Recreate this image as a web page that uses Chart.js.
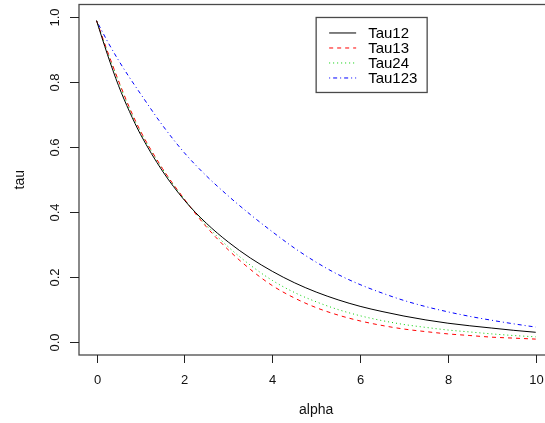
<!DOCTYPE html>
<html>
<head>
<meta charset="utf-8">
<script src="https://cdn.jsdelivr.net/npm/chart.js@4"></script>
<style>
  html, body { margin: 0; padding: 0; background: #fff; overflow: hidden; }
  #wrap { width: 545px; height: 423px; overflow: hidden; }
</style>
</head>
<body>
<div id="wrap"><canvas id="tau-chart" width="560" height="423"></canvas></div>
<script>
// values
const alpha = [0, 0.25, 0.5, 0.75, 1, 1.5, 2, 2.5, 3, 3.5, 4, 4.5, 5, 5.5, 6, 6.5, 7, 7.5, 8, 8.5, 9, 9.5, 10];
const tau12  = [0.99, 0.885, 0.79, 0.71, 0.64, 0.527, 0.437, 0.366, 0.308, 0.259, 0.218, 0.183, 0.154, 0.13, 0.11, 0.094, 0.08, 0.068, 0.058, 0.05, 0.043, 0.036, 0.03];
const tau13  = [0.99, 0.895, 0.805, 0.722, 0.65, 0.535, 0.44, 0.355, 0.284, 0.224, 0.174, 0.136, 0.106, 0.083, 0.065, 0.051, 0.04, 0.032, 0.025, 0.02, 0.015, 0.012, 0.009];
const tau24  = [0.99, 0.893, 0.802, 0.718, 0.647, 0.533, 0.44, 0.36, 0.293, 0.237, 0.19, 0.153, 0.124, 0.1, 0.081, 0.066, 0.054, 0.045, 0.037, 0.031, 0.025, 0.02, 0.016];
const tau123 = [0.99, 0.926, 0.868, 0.815, 0.765, 0.668, 0.583, 0.512, 0.45, 0.393, 0.34, 0.29, 0.246, 0.208, 0.177, 0.151, 0.128, 0.109, 0.093, 0.079, 0.067, 0.056, 0.046];

const seriesNames = ["Tau12", "Tau13", "Tau24", "Tau123"];
const xTicks = [0, 2, 4, 6, 8, 10];
const yTicks = [0, 0.2, 0.4, 0.6, 0.8, 1.0];
const yTickLabels = ["0.0", "0.2", "0.4", "0.6", "0.8", "1.0"];

function points(ys) {
  return alpha.map((a, i) => ({ x: a, y: ys[i] }));
}

// R style box, ticks, titles and legend
const rAxes = {
  id: "rAxes",
  afterDraw(chart) {
    const ctx = chart.ctx;
    const area = chart.chartArea;
    const xs = chart.scales.x, ys = chart.scales.y;
    ctx.save();
    ctx.strokeStyle = "#4a4a4a";
    ctx.lineWidth = 1.3;
    ctx.strokeRect(area.left, area.top, area.right - area.left, area.bottom - area.top);

    ctx.fillStyle = "#111";
    ctx.strokeStyle = "#222";
    ctx.lineWidth = 1;
    ctx.font = "13px 'Liberation Sans', Arial, sans-serif";
    ctx.textAlign = "center";
    ctx.textBaseline = "middle";
    xTicks.forEach(v => {
      const px = Math.round(xs.getPixelForValue(v)) + 0.5;
      ctx.beginPath();
      ctx.moveTo(px, area.bottom);
      ctx.lineTo(px, area.bottom + 8);
      ctx.stroke();
      ctx.fillText(String(v), px, area.bottom + 25);
    });
    yTicks.forEach((v, i) => {
      const py = Math.round(ys.getPixelForValue(v)) + 0.5;
      ctx.beginPath();
      ctx.moveTo(area.left, py);
      ctx.lineTo(area.left - 9, py);
      ctx.stroke();
      ctx.save();
      ctx.translate(area.left - 24, py);
      ctx.rotate(-Math.PI / 2);
      ctx.fillText(yTickLabels[i], 0, 0);
      ctx.restore();
    });

    ctx.font = "14px 'Liberation Sans', Arial, sans-serif";
    ctx.fillText("alpha", (area.left + area.right) / 2, 410);
    ctx.save();
    ctx.translate(20, (area.top + area.bottom) / 2);
    ctx.rotate(-Math.PI / 2);
    ctx.fillText("tau", 0, 0);
    ctx.restore();

    // legend, top-left corner at (5, 1) in data units
    const lx = xs.getPixelForValue(5), ly = ys.getPixelForValue(1);
    ctx.strokeStyle = "#4a4a4a";
    ctx.lineWidth = 1.3;
    ctx.strokeRect(lx, ly, 111, 75);
    ctx.font = "15px 'Liberation Sans', Arial, sans-serif";
    ctx.textAlign = "left";
    chart.data.datasets.forEach((ds, i) => {
      const yy = ly + 15.5 + i * 15;
      ctx.strokeStyle = ds.borderColor;
      ctx.lineWidth = 1;
      ctx.setLineDash(ds.borderDash || []);
      ctx.beginPath();
      ctx.moveTo(lx + 13, yy);
      ctx.lineTo(lx + 40, yy);
      ctx.stroke();
      ctx.setLineDash([]);
      ctx.fillStyle = "#000";
      ctx.fillText(ds.label, lx + 52, yy + 1);
    });
    ctx.restore();
  }
};

const canvas = document.querySelector("#tau-chart");
let options = {
  type: "line",
  data: {
    datasets: [
      { label: seriesNames[0], data: points(tau12),  borderColor: "#000000", borderDash: [] },
      { label: seriesNames[1], data: points(tau13),  borderColor: "#ff0000", borderDash: [4, 4] },
      { label: seriesNames[2], data: points(tau24),  borderColor: "#00cd00", borderDash: [1, 3] },
      { label: seriesNames[3], data: points(tau123), borderColor: "#0000ff", borderDash: [1, 3, 4, 3] },
    ].map(d => Object.assign(d, { borderWidth: 1, pointRadius: 0, cubicInterpolationMode: "monotone", fill: false })),
  },
  options: {
    responsive: false,
    animation: false,
    devicePixelRatio: 1,
    layout: { padding: { left: 79, top: 4.5, right: 6.7, bottom: 68 } },
    scales: {
      x: { type: "linear", min: -0.4, max: 10.4, display: false },
      y: { type: "linear", min: -0.04, max: 1.04, display: false },
    },
    plugins: {
      legend: { display: false },
      tooltip: { enabled: false },
    },
  },
  plugins: [rAxes],
};
const chart = new Chart(canvas.getContext("2d"), options);
</script>
</body>
</html>
